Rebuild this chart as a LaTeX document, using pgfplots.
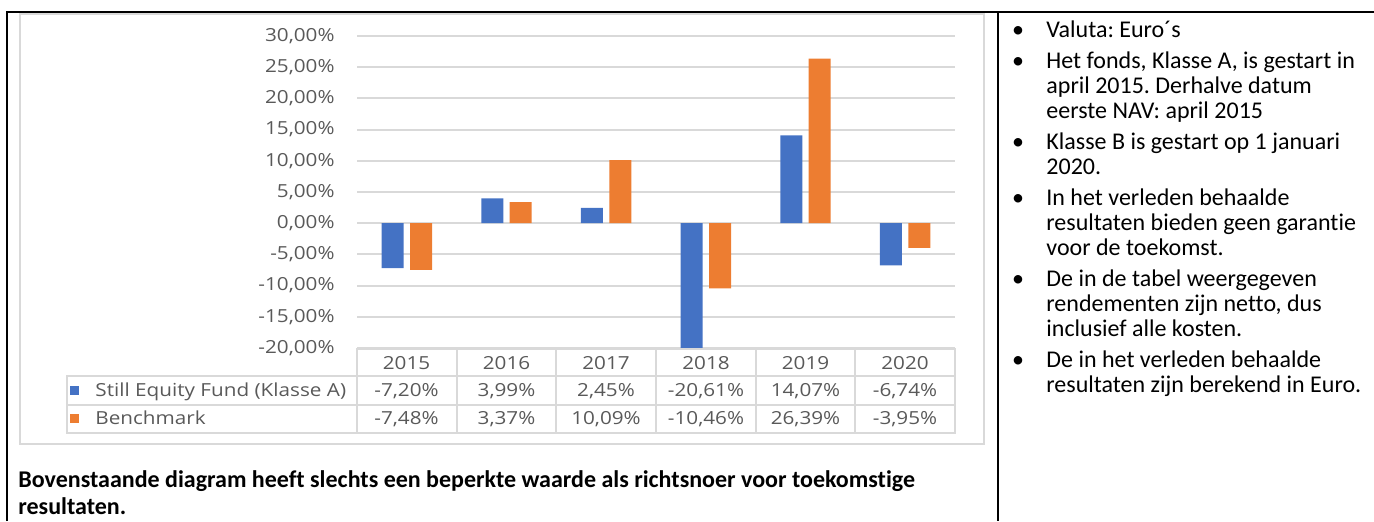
\documentclass[border=0pt]{standalone}
\usepackage{fontspec}
\setmainfont{Carlito}[Ligatures=NoCommon]
\newfontfamily\chartfont{Open Sans}[FakeStretch=1.15]
\usepackage{pgfplots}
\pgfplotsset{compat=1.18}
\definecolor{xblue}{HTML}{4472C4}
\definecolor{xorange}{HTML}{ED7D31}
\definecolor{xgrid}{HTML}{D9D9D9}
\definecolor{xtext}{HTML}{595959}
\newcommand{\cf}{\chartfont\fontsize{9}{10}\selectfont\color{xtext}}
\newcommand{\tf}{\frenchspacing\fontsize{12}{13}\selectfont}
\frenchspacing
\begin{document}
\begin{tikzpicture}
\path[use as bounding box] (0,0) rectangle (687pt,-260.5pt);
\begin{scope}[x=0.5pt,y=-0.5pt]
% outer black table lines
\draw[black, line width=1.3pt] (7,521) -- (7,12) -- (1374,12);
\draw[black, line width=1.3pt] (998,12) -- (998,521);
% chart frame
\draw[xgrid, line width=1pt] (20,14) rectangle (984,444);
\end{scope}
\begin{axis}[
  at={(178.5pt,-18pt)}, anchor=north west,
  scale only axis, width=299pt, height=156pt,
  xmin=-0.5, xmax=5.5, ymin=-20, ymax=30,
  ybar=3.2pt, bar width=11pt,
  axis line style={draw=none},
  xtick=\empty,
  ytick={-20,-15,-10,-5,0,5,10,15,20,25,30},
  yticklabels={{-20,00\%},{-15,00\%},{-10,00\%},{-5,00\%},{0,00\%},{5,00\%},{10,00\%},{15,00\%},{20,00\%},{25,00\%},{30,00\%}},
  major tick length=0pt,
  ymajorgrids, grid style={xgrid, line width=1pt},
  yticklabel style={font=\cf, anchor=east, inner sep=0pt, xshift=-11pt},
]
\addplot[fill=xblue, draw=none] coordinates {(0,-7.20) (1,3.99) (2,2.45) (3,-20.61) (4,14.07) (5,-6.74)};
\addplot[fill=xorange, draw=none] coordinates {(0,-7.48) (1,3.37) (2,10.09) (3,-10.46) (4,26.39) (5,-3.95)};
\end{axis}
\begin{scope}[x=0.5pt,y=-0.5pt]
% data table
\draw[xgrid, line width=1pt] (357,349) rectangle (955,433);
\draw[xgrid, line width=1pt] (67,376) rectangle (955,433);
\draw[xgrid, line width=1pt] (67,404.5) -- (955,404.5);
\foreach \c in {456.7,556.3,656,755.7,855.3} \draw[xgrid, line width=1pt] (\c,349) -- (\c,433);
\foreach \c/\y/\a/\b in {406.5/2015/{-7,20\%}/{-7,48\%}, 506.5/2016/{3,99\%}/{3,37\%}, 606/2017/{2,45\%}/{10,09\%}, 706/2018/{-20,61\%}/{-10,46\%}, 805.5/2019/{14,07\%}/{26,39\%}, 905/2020/{-6,74\%}/{-3,95\%}}{
  \node[anchor=base, inner sep=0pt, font=\cf] at (\c,369) {\y};
  \node[anchor=base, inner sep=0pt, font=\cf] at (\c,396.5) {\a};
  \node[anchor=base, inner sep=0pt, font=\cf] at (\c,424.5) {\b};
}
\fill[xblue] (70,386) rectangle (79,395);
\fill[xorange] (70,414) rectangle (79,423);
\node[anchor=base west, inner sep=0pt, font=\cf] at (95,396.5) {Still Equity Fund (Klasse A)};
\node[anchor=base west, inner sep=0pt, font=\cf] at (95,424.5) {Benchmark};
% bold note
\node[anchor=base west, inner sep=0pt, font=\tf\bfseries] at (18,487) {Bovenstaande diagram heeft slechts een beperkte waarde als richtsnoer voor toekomstige};
\node[anchor=base west, inner sep=0pt, font=\tf\bfseries] at (18,514) {resultaten.};
% right column
\foreach \y/\t in {37/{Valuta: Euro´s}, 68/{Het fonds, Klasse A, is gestart in}, 93/{april 2015. Derhalve datum}, 118/{eerste NAV: april 2015}, 149/{Klasse B is gestart op 1 januari}, 174/{2020.}, 205/{In het verleden behaalde}, 230/{resultaten bieden geen garantie}, 255/{voor de toekomst.}, 286/{De in de tabel weergegeven}, 311/{rendementen zijn netto, dus}, 336/{inclusief alle kosten.}, 367/{De in het verleden behaalde}, 392/{resultaten zijn berekend in Euro.}}{
  \node[anchor=base west, inner sep=0pt, font=\tf] at (1046,\y) {\t};
}
\foreach \y in {37,68,149,205,286,367}{
  \node[anchor=base, inner sep=0pt, font=\tf] at (1018,\y) {•};
}
\end{scope}
\end{tikzpicture}
\end{document}
